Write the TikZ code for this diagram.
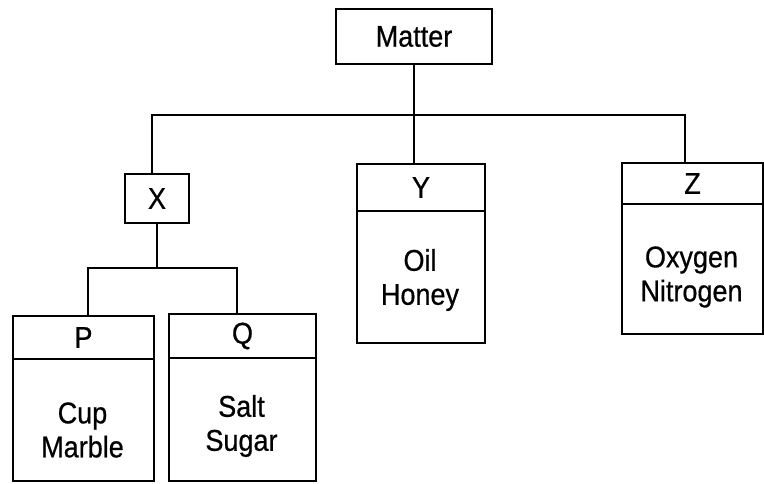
\documentclass[tikz,border=0pt]{standalone}
\usepackage{fontspec}
\setmainfont{Liberation Sans}[FakeStretch=0.9, FakeBold=0.6]
\begin{document}
\begin{tikzpicture}[x=1pt,y=-1pt,
  line width=2pt,
  every node/.style={font=\fontsize{30}{34}\selectfont, inner sep=0pt},
  boxn/.style={draw, anchor=north west, minimum width=#1},
  txt/.style={align=center}]
\useasboundingbox (0,0) rectangle (764,484);
% Root
\node[boxn=156pt, minimum height=55pt] (M) at (335,8) {Matter};
% X
\node[boxn=64pt, minimum height=49pt] (X) at (124,173) {X};
% Y
\node[boxn=128pt, minimum height=47pt] (Yh) at (356,163) {Y};
\node[boxn=128pt, minimum height=132pt] (Yb) at (356,210) {};
\node[txt] (Yt) at (420,280) {Oil\\Honey};
% Z
\node[boxn=141pt, minimum height=41pt] (Zh) at (621,162) {Z};
\node[boxn=141pt, minimum height=130pt] (Zb) at (621,203) {};
\node[txt] (Zt) at (691.5,277) {Oxygen\\Nitrogen};
% P
\node[boxn=141pt, minimum height=43pt] (Ph) at (12,315) {P};
\node[boxn=141pt, minimum height=122pt] (Pb) at (12,358) {};
\node[txt] (Pt) at (82.5,430) {Cup\\Marble};
% Q
\node[boxn=147pt, minimum height=44pt] (Qh) at (168,313) {Q};
\node[boxn=147pt, minimum height=123pt] (Qb) at (168,357) {};
\node[txt] (Qt) at (241.5,426) {Salt\\Sugar};
% connectors
\coordinate (bus) at (414,115);
\coordinate (zdrop) at (685,162);
\coordinate (xdrop) at (152,173);
\draw (M.south -| bus) -- (Yh.north -| bus);
\draw (xdrop) |- (bus) -| (zdrop);
\coordinate (pq) at (157,268);
\coordinate (pdrop) at (88,315);
\coordinate (qdrop) at (237,313);
\draw (X.south -| pq) -- (pq);
\draw (pdrop) |- (pq) -| (qdrop);
\end{tikzpicture}
\end{document}
